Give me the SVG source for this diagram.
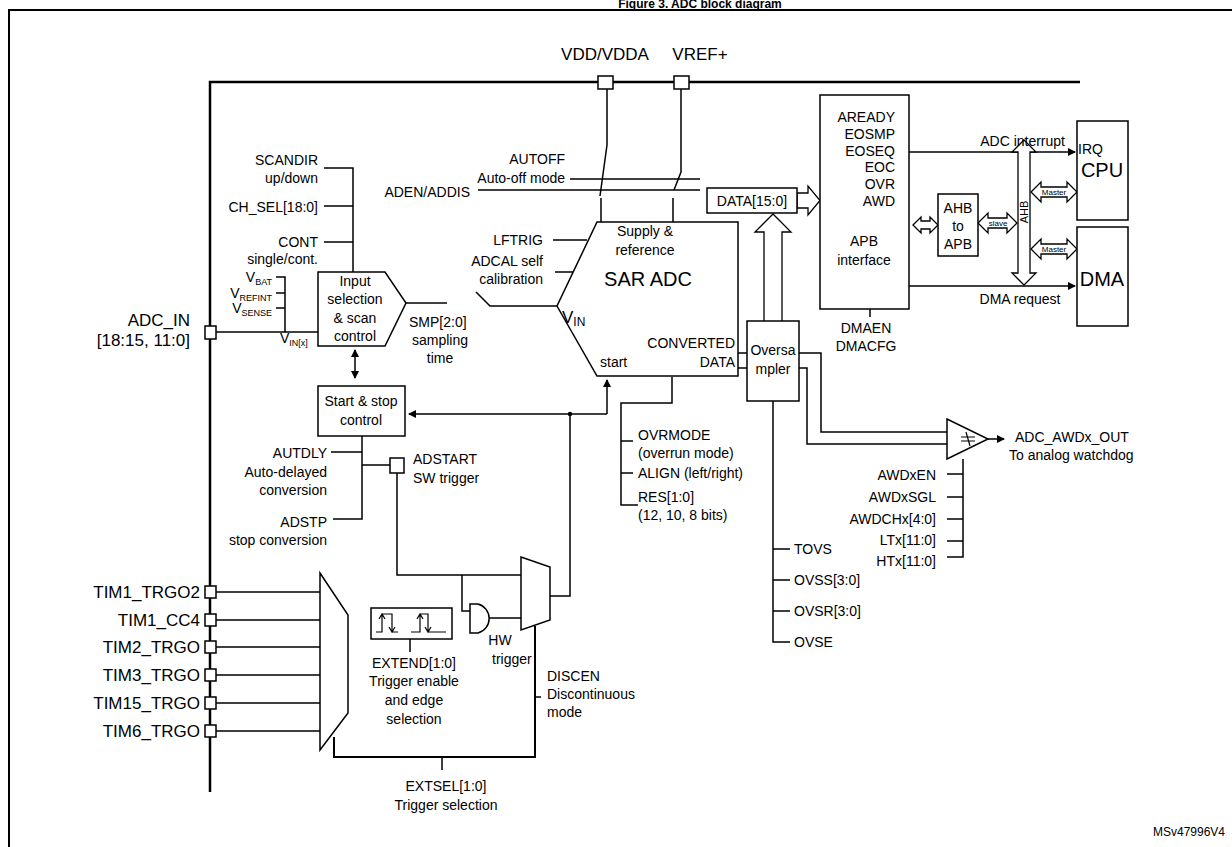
<svg xmlns="http://www.w3.org/2000/svg" width="1232" height="847" viewBox="0 0 1232 847">
<defs>
<marker id="ah" markerWidth="8" markerHeight="8" refX="7" refY="4" orient="auto" markerUnits="userSpaceOnUse"><path d="M0,0 L8,4 L0,8 Z" fill="#000"/></marker>
<marker id="ahs" markerWidth="8" markerHeight="8" refX="1" refY="4" orient="auto" markerUnits="userSpaceOnUse"><path d="M8,0 L0,4 L8,8 Z" fill="#000"/></marker>
</defs>
<style>
text{font-family:"Liberation Sans",Arial,sans-serif;font-size:14px;fill:#000}
.r{text-anchor:end}.m{text-anchor:middle}
.b{font-size:17px}.big{font-size:20px}.s{font-size:9px}
.ln{fill:none;stroke:#000;stroke-width:1.5}
.thk{fill:none;stroke:#000;stroke-width:2.5}
.bx{fill:#fff;stroke:#000;stroke-width:1.5}
.ha{fill:#fff;stroke:#000;stroke-width:1.3}
</style>
<rect width="1232" height="847" fill="#fff"/>
<text x="700" y="8" class="m" style="font-weight:bold;font-size:12px">Figure 3. ADC block diagram</text>
<rect x="9" y="10" width="1240" height="850" fill="none" stroke="#000" stroke-width="2"/>
<g id="bus">
<path class="thk" d="M210,792 V82 H1080"/>
<text x="605" y="60" class="m b">VDD/VDDA</text>
<text x="700" y="60" class="m b">VREF+</text>
<rect x="598" y="76" width="15" height="13" class="bx"/>
<rect x="674" y="76" width="15" height="13" class="bx"/>
</g>
<g id="connectors">
<path class="ln" d="M607,89 V145 L600,196 M601,198 V222"/>
<path class="ln" d="M681,89 V172 L674,190 M673,198 V222"/>
<path class="ln" d="M570,179 H700 M478,190 H700"/>
<path class="ln" d="M324,168 H353 V272 M324,206 H353 M324,242 H353"/>
<path class="ln" d="M276,277 H285 V332 M276,293 H285 M276,308 H285"/>
<path class="ln" d="M216,332 H318"/>
<path class="ln" d="M406,303 H447"/>
<path class="ln" d="M355,350 V378" marker-start="url(#ahs)" marker-end="url(#ah)"/>
<path class="ln" d="M553,240 H587 M555,272 H580 M476,292 L490,306 H557"/>
<path class="ln" d="M607,414 V380" marker-end="url(#ah)"/>
<path class="ln" d="M607,414 H409" marker-end="url(#ah)"/>
<path class="ln" d="M570,414 V596 H550"/>
<circle cx="570" cy="414" r="2.2"/>
<path class="ln" d="M672,377 V403 H621 V505 H638 M621,441 H633 M621,473 H633"/>
<path class="ln" d="M738,353 H747 M738,368 H747"/>
<path class="ln" d="M773,401 V642 H790 M773,549 H790 M773,580 H790 M773,611 H790"/>
<path class="ha" d="M764,321 V232 H755 L773,214 L791,232 H782 V321"/>
<path class="ha" d="M797,193 H808 V186 L820,200.5 L808,215 V208 H797 Z"/>
<path class="ln" d="M799,353 H821 V432 H947 M799,368 H807 V444 H947"/>
<path class="ln" d="M963,459 V557 H947 M947,474 H963 M947,497 H963 M947,519 H963 M947,541 H963"/>
<path class="ln" d="M988,439 H1004" marker-end="url(#ah)"/>
<path class="ln" d="M903,117 V201 M897,117 H903 M897,134 H903 M897,167 H903 M897,184 H903 M897,201 H903"/>
<path class="ln" d="M903,152 H1075" marker-end="url(#ah)"/>
<path class="ln" d="M909,286 H1075" marker-end="url(#ah)"/>
<path class="ln" d="M870,309 V317"/>
<path class="ln" d="M362,436 V519 H333 M331,452 H362 M362,465 H390"/>
<path class="ln" d="M397,473 V575 H521 M462,575 V611 H470 M486,618 H521"/>
<path class="ln" d="M216,592 H320 M216,620 H320 M216,647 H320 M216,675 H320 M216,703 H320 M216,731 H320"/>
<path class="thk" style="stroke-width:2" d="M334,737 V757 H535 V626"/>
<path class="ln" d="M535,697 H541 M442,757 V770 M410,639 V652"/>
</g>
<g id="adstart">
<rect x="390" y="458" width="14" height="15" class="bx"/>
</g>
<g id="ahb-arrows">
<path class="ha" d="M913,225 L921,217 V221 H930 V217 L938,225 L930,233 V229 H921 V233 Z"/>
<path class="ha" d="M978,223 L988,213 V218 H1007 V213 L1017,223 L1007,233 V228 H988 V233 Z"/>
<text x="998" y="226" class="m" style="font-size:8px">slave</text>
<path class="ha" d="M1024,140 L1036,152 H1030 V273 H1036 L1024,285 L1012,273 H1018 V152 H1012 Z"/>
<text x="1028" y="212" class="m" style="font-size:11px" transform="rotate(-90 1028 212)">AHB</text>
<path class="ha" d="M1031,192 L1041,182 V187 H1067 V182 L1077,192 L1067,202 V197 H1041 V202 Z"/>
<text x="1054" y="195" class="m" style="font-size:8px">Master</text>
<path class="ha" d="M1031,249 L1041,239 V244 H1067 V239 L1077,249 L1067,259 V254 H1041 V259 Z"/>
<text x="1054" y="252" class="m" style="font-size:8px">Master</text>
</g>
<g id="labels-left">
<text x="318" y="165" class="r">SCANDIR</text><text x="318" y="183" class="r">up/down</text>
<text x="318" y="212" class="r">CH_SEL[18:0]</text>
<text x="318" y="247" class="r">CONT</text><text x="318" y="264" class="r">single/cont.</text>
<text x="272" y="282" class="r">V<tspan class="s" dy="3">BAT</tspan></text>
<text x="272" y="298" class="r">V<tspan class="s" dy="3">REFINT</tspan></text>
<text x="272" y="313" class="r">V<tspan class="s" dy="3">SENSE</tspan></text>
<text x="280" y="343">V<tspan class="s" dy="3">IN[x]</tspan></text>
<text x="190" y="326" class="r b">ADC_IN</text>
<text x="190" y="346" class="r b">[18:15, 11:0]</text>
<rect x="205" y="326" width="11" height="13" class="bx"/>
<text x="409" y="327">SMP[2:0]</text><text x="440" y="345" class="m">sampling</text><text x="440" y="363" class="m">time</text>
<text x="565" y="164" class="r">AUTOFF</text><text x="565" y="183" class="r">Auto-off mode</text>
<text x="470" y="197" class="r">ADEN/ADDIS</text>
<text x="543" y="245" class="r">LFTRIG</text>
<text x="543" y="266" class="r">ADCAL self</text><text x="543" y="284" class="r">calibration</text>
<text x="327" y="458" class="r">AUTDLY</text><text x="327" y="477" class="r">Auto-delayed</text><text x="327" y="495" class="r">conversion</text>
<text x="327" y="527" class="r">ADSTP</text><text x="327" y="545" class="r">stop conversion</text>
<text x="413" y="464">ADSTART</text><text x="413" y="483">SW trigger</text>
</g>
<g id="input-sel">
<path class="bx" d="M318,272 H385 L406,303 L385,346 H318 Z"/>
<text x="355" y="286" class="m">Input</text><text x="355" y="304" class="m">selection</text><text x="355" y="323" class="m">&amp; scan</text><text x="355" y="341" class="m">control</text>
</g>
<g id="start-stop">
<rect x="318" y="386" width="87" height="50" class="bx"/>
<text x="361" y="406" class="m">Start &amp; stop</text><text x="361" y="425" class="m">control</text>
</g>
<g id="sar-adc">
<path class="bx" d="M597,222 H738 V376 H597 L557,306 Z"/>
<text x="645" y="236" class="m">Supply &amp;</text><text x="645" y="255" class="m">reference</text>
<text x="648" y="286" class="m big">SAR ADC</text>
<text x="562" y="323" class="b">V<tspan style="font-size:12px" dy="3">IN</tspan></text>
<text x="735" y="348" class="r">CONVERTED</text>
<text x="600" y="367">start</text><text x="735" y="367" class="r">DATA</text>
</g>
<g id="adc-cfg">
<text x="638" y="440">OVRMODE</text><text x="638" y="458">(overrun mode)</text>
<text x="638" y="478">ALIGN (left/right)</text>
<text x="638" y="502">RES[1:0]</text><text x="638" y="520">(12, 10, 8 bits)</text>
</g>
<g id="oversampler">
<rect x="747" y="321" width="52" height="80" class="bx"/>
<text x="773" y="355" class="m">Oversa</text><text x="773" y="374" class="m">mpler</text>
<text x="794" y="554">TOVS</text><text x="794" y="585">OVSS[3:0]</text><text x="794" y="616">OVSR[3:0]</text><text x="794" y="647">OVSE</text>
</g>
<g id="data-reg">
<rect x="707" y="188" width="90" height="25" class="bx"/>
<text x="752" y="206" class="m">DATA[15:0]</text>
</g>
<g id="apb">
<rect x="820" y="95" width="89" height="214" class="bx"/>
<text x="895" y="122" class="r">AREADY</text><text x="895" y="139" class="r">EOSMP</text><text x="895" y="156" class="r">EOSEQ</text>
<text x="895" y="172" class="r">EOC</text><text x="895" y="189" class="r">OVR</text><text x="895" y="206" class="r">AWD</text>
<text x="864" y="246" class="m">APB</text><text x="864" y="265" class="m">interface</text>
<text x="866" y="333" class="m">DMAEN</text><text x="866" y="351" class="m">DMACFG</text>
<text x="1065" y="146" class="r">ADC interrupt</text>
<text x="1020" y="304" class="m">DMA request</text>
</g>
<g id="ahb2apb">
<rect x="938" y="194" width="40" height="62" class="bx"/>
<text x="958" y="213" class="m">AHB</text><text x="958" y="231" class="m">to</text><text x="958" y="249" class="m">APB</text>
</g>
<g id="cpu">
<rect x="1077" y="121" width="51" height="99" class="bx"/>
<text x="1078" y="154">IRQ</text>
<text x="1102" y="177" class="m big">CPU</text>
</g>
<g id="dma">
<rect x="1077" y="227" width="51" height="99" class="bx"/>
<text x="1102" y="286" class="m big">DMA</text>
</g>
<g id="watchdog">
<path class="bx" d="M947,419 V459 L988,439 Z"/>
<path class="ln" style="stroke-width:1.2" d="M961,437 H975 M961,441 H975 M966,432 L970,446"/>
<text x="1015" y="442">ADC_AWDx_OUT</text><text x="1009" y="460">To analog watchdog</text>
<text x="936" y="480" class="r">AWDxEN</text><text x="936" y="502" class="r">AWDxSGL</text><text x="936" y="524" class="r">AWDCHx[4:0]</text>
<text x="936" y="545" class="r">LTx[11:0]</text><text x="936" y="566" class="r">HTx[11:0]</text>
</g>
<g id="trigger-mux">
<path class="bx" d="M320,573 L348,615 V713 L320,750 Z"/>
<text x="200" y="598" class="r b">TIM1_TRGO2</text><rect x="205" y="586" width="11" height="12" class="bx"/>
<text x="200" y="626" class="r b">TIM1_CC4</text><rect x="205" y="614" width="11" height="12" class="bx"/>
<text x="200" y="653" class="r b">TIM2_TRGO</text><rect x="205" y="641" width="11" height="12" class="bx"/>
<text x="200" y="681" class="r b">TIM3_TRGO</text><rect x="205" y="669" width="11" height="12" class="bx"/>
<text x="200" y="709" class="r b">TIM15_TRGO</text><rect x="205" y="697" width="11" height="12" class="bx"/>
<text x="200" y="737" class="r b">TIM6_TRGO</text><rect x="205" y="725" width="11" height="12" class="bx"/>
<text x="446" y="791" class="m">EXTSEL[1:0]</text><text x="446" y="810" class="m">Trigger selection</text>
</g>
<g id="extend">
<rect x="371" y="608" width="81" height="31" class="bx"/>
<path class="ln" style="stroke-width:1.2" d="M376,632 H382 V614 H392 V632 H398 M382,626 V616 M379,619 L382,614 L385,619 M392,620 V631 M389,627 L392,632 L395,627 M411,632 H420 V614 H428 V632 H446 M420,626 V616 M417,619 L420,614 L423,619 M428,620 V631 M425,627 L428,632 L431,627"/>
<text x="414" y="668" class="m">EXTEND[1:0]</text><text x="414" y="686" class="m">Trigger enable</text><text x="414" y="705" class="m">and edge</text><text x="414" y="724" class="m">selection</text>
</g>
<g id="and-gate">
<path class="bx" d="M470,604 H478 A15,15 0 0 1 478,633 H470 Z"/>
<text x="500" y="645" class="m">HW</text><text x="492" y="664">trigger</text>
</g>
<g id="trig-mux2">
<path class="bx" d="M521,557 L550,567 V620 L521,630 Z"/>
<text x="547" y="681">DISCEN</text><text x="547" y="699">Discontinuous</text><text x="547" y="717">mode</text>
</g>
<text x="1225" y="836" class="r" style="font-size:12px">MSv47996V4</text>
</svg>
